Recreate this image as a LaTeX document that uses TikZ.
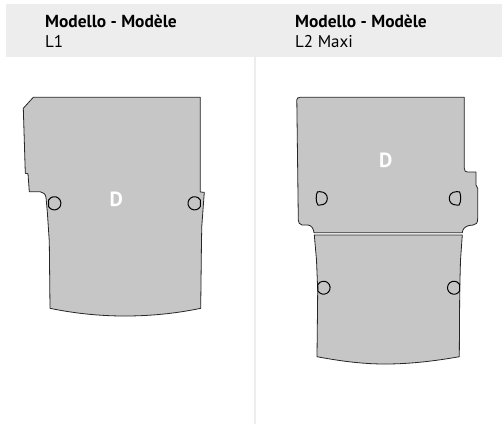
\documentclass[tikz,border=0pt]{standalone}
\usepackage{fontspec}
\setmainfont{PT Sans}
\definecolor{hdr}{HTML}{EDEDED}
\definecolor{panel}{HTML}{C6C6C6}
\definecolor{rule}{HTML}{EDEDED}
\tikzset{
  mat/.style={draw=black!85,fill=panel,line width=.8pt,line join=round},
  hole/.style={draw=black,line width=1pt,line join=round},
  zone/.style={text=white,font=\bfseries\fontsize{20.5}{20}\selectfont,inner sep=0pt},
  title/.style={anchor=base west,inner sep=0pt,font=\bfseries\fontsize{17.4}{18}\selectfont},
  sub/.style={anchor=base west,inner sep=0pt,font=\fontsize{17}{18}\selectfont}
}
\begin{document}
\begin{tikzpicture}[x=1pt,y=-1pt]
\useasboundingbox (0,0) rectangle (502,424);
\fill[white] (0,0) rectangle (502,424);
\fill[hdr] (6,4) rectangle (502,56.5);
\draw[rule,line width=2pt] (255,56.5) -- (255,424);
\node[title] (t1) at (45,27) {Modello - Modèle};
\node[sub] (s1) at (45,47) {L1};
\node[title] (t2) at (295,27) {Modello - Modèle};
\node[sub] (s2) at (295,47) {L2 Maxi};
% L1 mat
\draw[mat] (33.3,97.3) -- (23.3,108.3) -- (25.3,173.3) -- (28,173.7) -- (29.3,191.7) -- (40,191.7)
  .. controls (43,192) and (45.5,194) .. (46,197.3)
  -- (47.3,211.7) -- (49.3,241.7) -- (50,308.3)
  .. controls (75,313.5) and (100,316) .. (125,316)
  .. controls (150,316) and (176,313.5) .. (200.7,308.3)
  -- (201.5,240) -- (201.8,226) -- (204.3,192.3) -- (200.3,192) -- (200.3,97.3) -- cycle;
\draw[hole] (54.3,203.3) ++(150:6.6) arc[start angle=150,end angle=-150,radius=6.6] -- cycle;
\draw[hole] (194.6,203.3) ++(30:6.6) arc[start angle=30,end angle=330,radius=6.6] -- cycle;
\node[zone] (d1) at (116.3,199.7) {D};
% L2 lower mat
\draw[mat] (314.3,235) -- (316.5,260) -- (317.7,290) -- (317,356.7)
  .. controls (340,361) and (362,364) .. (385,364)
  .. controls (410,364) and (435,361) .. (459.3,356.7)
  -- (459.7,290) -- (460.5,260) -- (462.3,235) -- cycle;
% L2 upper mat
\draw[mat] (300,97.3) -- (464.3,97.3) -- (464.3,168.3)
  .. controls (464.3,171) and (465.5,172) .. (467.7,172)
  -- (476,172) -- (476,185) -- (477.7,188.3) -- (477.7,218.3)
  .. controls (477.7,223) and (476,225) .. (473.3,225) -- (469,225.5)
  .. controls (465,226.5) and (462.5,229) .. (462.3,232.7)
  -- (314,232.7)
  .. controls (313.5,228) and (311,225.2) .. (307.7,225) -- (302,225)
  .. controls (299.5,224.5) and (298.3,222.5) .. (298.3,220)
  -- (296.8,100) .. controls (296.8,98.3) and (298,97.3) .. (300,97.3) -- cycle;
\draw[hole] (317.5,191.8) -- (320,191.7) .. controls (325,191.7) and (327.3,195) .. (327.3,198.3)
  .. controls (327.3,202) and (325,205) .. (320,205) -- (318,205)
  .. controls (316.5,203) and (316.2,201) .. (316.2,198.3)
  .. controls (316.2,195.5) and (316.5,193.5) .. (317.5,191.8) -- cycle;
\draw[hole] (459.5,191.8) -- (456.5,191.7) .. controls (451.5,191.7) and (449.3,195) .. (449.3,198.3)
  .. controls (449.3,202) and (451.5,205) .. (456.5,205) -- (459,205)
  .. controls (460.3,203) and (460.7,201) .. (460.7,198.3)
  .. controls (460.7,195.5) and (460.3,193.5) .. (459.5,191.8) -- cycle;
\draw[hole] (323.6,287.7) ++(150:6.5) arc[start angle=150,end angle=-150,radius=6.5] -- cycle;
\draw[hole] (454,287.7) ++(30:6.5) arc[start angle=30,end angle=330,radius=6.5] -- cycle;
\node[zone] (d2) at (385.7,160.3) {D};
\end{tikzpicture}
\end{document}
